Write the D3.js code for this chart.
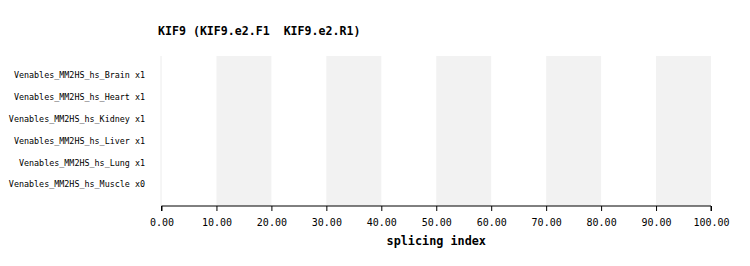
<!DOCTYPE html>
<meta charset="utf-8">
<style>
body { margin: 0; background: #fff; }
text { font-family: "DejaVu Sans Mono", monospace; white-space: pre; }
</style>
<script src="https://d3js.org/d3.v7.min.js"></script>
<div id="chart"></div>
<script>
// data
var samples = ["Venables_MM2HS_hs_Brain x1", "Venables_MM2HS_hs_Heart x1",
               "Venables_MM2HS_hs_Kidney x1", "Venables_MM2HS_hs_Liver x1",
               "Venables_MM2HS_hs_Lung x1", "Venables_MM2HS_hs_Muscle x0"];
var values = [null, null, null, null, null, null];   // no splicing index drawn
var xTicks = [0, 10, 20, 30, 40, 50, 60, 70, 80, 90, 100];
var title = "KIF9 (KIF9.e2.F1  KIF9.e2.R1)";

var W = 750, H = 266;
var plotLeft = 161.5, plotRight = 711, plotTop = 56, plotBottom = 206;

var svg = d3.select("#chart").append("svg")
    .attr("width", W).attr("height", H);

var x = d3.scaleLinear().domain([0, 100]).range([plotLeft, plotRight]);
var y = d3.scaleBand().domain(samples).range([64, 195.5]);

// alternating shaded bands
var bands = d3.range(1, 10, 2).map(function(i) { return [xTicks[i], xTicks[i + 1]]; });
svg.selectAll("rect.band")
    .data(bands)
    .enter().append("rect")
    .attr("class", "band")
    .attr("x", function(d) { return x(d[0]); })
    .attr("width", function(d) { return x(d[1]) - x(d[0]); })
    .attr("y", plotTop)
    .attr("height", plotBottom - plotTop)
    .attr("fill", "#f2f2f2");

// faint left edge
svg.append("line")
    .attr("x1", plotLeft - 0.5).attr("x2", plotLeft - 0.5)
    .attr("y1", plotTop).attr("y2", plotBottom)
    .attr("stroke", "#ececec");

// row labels
svg.selectAll("text.lab")
    .data(samples)
    .enter().append("text")
    .attr("class", "lab")
    .attr("x", 145)
    .attr("y", function(d) { return y(d) + y.bandwidth() / 2; })
    .attr("dy", "0.35em")
    .attr("text-anchor", "end")
    .style("font-size", "8.4px")
    .text(function(d) { return d; });

// points (none have a value)
svg.selectAll("circle.pt")
    .data(values.filter(function(v) { return v != null; }))
    .enter().append("circle")
    .attr("class", "pt");

var xAxis = d3.axisBottom(x)
    .tickValues(xTicks)
    .tickSize(5)
    .tickPadding(8)
    .tickFormat(d3.format(".2f"));

var gx = svg.append("g")
    .attr("transform", "translate(0," + plotBottom + ")")
    .call(xAxis);
gx.select(".domain").attr("stroke", "#000").attr("d", "M" + plotLeft + ",5V0H" + plotRight + "V5");
gx.selectAll(".tick line").attr("stroke", "#000");
gx.selectAll(".tick text")
    .style("font-size", "10px")
    .attr("fill", "#000");

svg.append("text")
    .attr("x", (plotLeft + plotRight) / 2)
    .attr("y", 245)
    .attr("text-anchor", "middle")
    .style("font-size", "11.8px")
    .style("font-weight", "bold")
    .text("splicing index");

svg.append("text")
    .attr("x", 158)
    .attr("y", 35)
    .style("font-size", "11.6px")
    .style("font-weight", "bold")
    .text(title);
</script>
